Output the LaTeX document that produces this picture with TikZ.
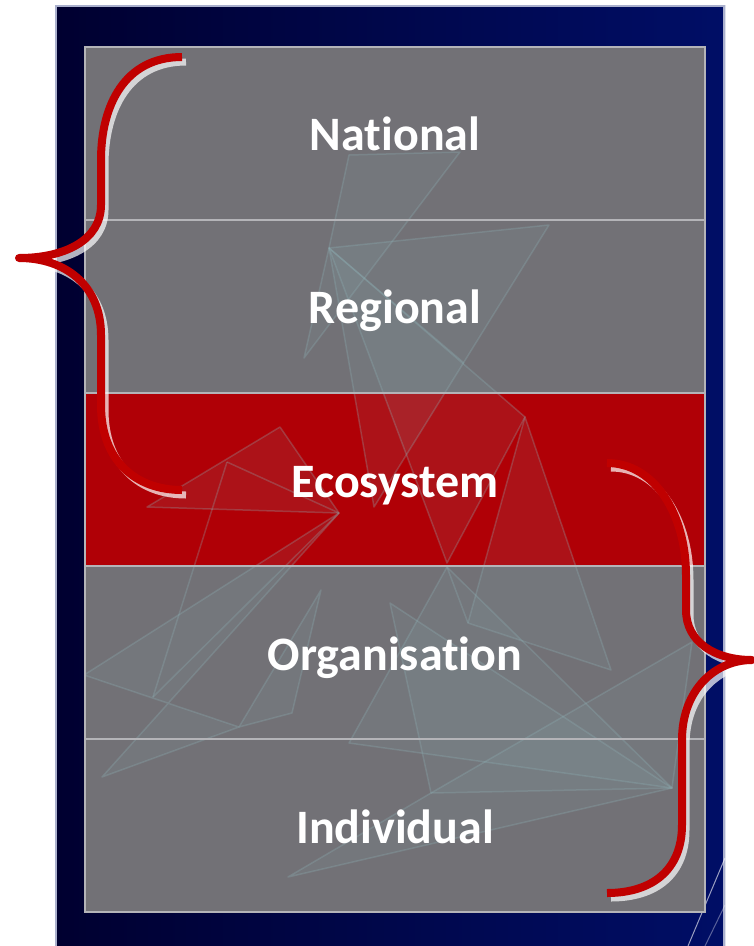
\documentclass[tikz,border=0pt]{standalone}
\usepackage{fontspec}
\setmainfont{Carlito}[Ligatures=NoCommon]
\usetikzlibrary{calc}
\definecolor{navyL}{HTML}{000030}
\definecolor{navyR}{HTML}{000E66}
\definecolor{rowgrey}{HTML}{727176}
\definecolor{rowred}{HTML}{B00006}
\definecolor{brace}{HTML}{C00000}
\definecolor{divider}{HTML}{B4B4B8}
\definecolor{facet}{HTML}{8FB3B8}
\definecolor{paneledge}{HTML}{AAB0CD}
\tikzset{
  rowbox/.style={rectangle, minimum width=620pt, minimum height=173pt, inner sep=0pt, draw=divider, line width=1.5pt},
  label/.style={anchor=base, text=white, font=\bfseries\fontsize{48}{52}\selectfont, inner sep=0pt},
  facetfill/.style={fill=facet, fill opacity=0.10, draw=facet, draw opacity=0.28, line width=1.5pt, line join=round},
  facetline/.style={draw=facet, draw opacity=0.28, line width=1.5pt},
  bracered/.style={draw=brace, line width=8pt, line cap=butt, line join=round},
  braceshadow/.style={draw=white, line width=7pt, opacity=0.7, line cap=butt},
}
\begin{document}
\begin{tikzpicture}[x=1pt,y=-1pt]
\useasboundingbox (0,0) rectangle (754,946);
% panel
\shade[left color=navyL, right color=navyR] (55,5) rectangle (725,950);
\draw[paneledge, line width=2pt] (56,946) -- (56,6) -- (724,6) -- (724,946);
% light streaks bottom right
\draw[white, opacity=0.6, line width=1pt] (688,946) -- (725,858);
\draw[white, opacity=0.35, line width=1pt] (705,946) -- (725,905);
% rows
\node[rowbox, fill=rowgrey] (r1) at (395,133.5) {};
\node[rowbox, fill=rowgrey] (r2) at (395,306.5) {};
\node[rowbox, fill=rowred]  (r3) at (395,479.5) {};
\node[rowbox, fill=rowgrey] (r4) at (395,652.5) {};
\node[rowbox, fill=rowgrey] (r5) at (395,825.5) {};
% faint facets
\begin{scope}
\clip (85,47) rectangle (705,912);
\path[facetfill] (349,155) -- (460,152) -- (304,358) -- (329,248) -- cycle;
\path[facetfill] (329,248) -- (549,225) -- (374,507) -- cycle;
\path[facetfill] (329,248) -- (525,417) -- (447,563) -- cycle;
\path[facetline] (329,248) -- (464,363);
\path[facetfill] (525,417) -- (611,670) -- (468,623) -- cycle;
\path[facetfill] (280,427) -- (147,507) -- (339,513) -- cycle;
\path[facetline] (227,462) -- (339,513);
\path[facetline] (227,462) -- (153,697);
\path[facetfill] (339,513) -- (84,675) -- (239,727) -- (102,777) -- cycle;
\path[facetline] (339,513) -- (153,697);
\path[facetfill] (321,590) -- (292,713) -- (239,727) -- cycle;
\path[facetfill] (390,603) -- (672,788) -- (431,793) -- cycle;
\path[facetfill] (692,642) -- (431,793) -- (288,877) -- (672,788) -- cycle;
\path[facetfill] (447,567) -- (349,743) -- (672,788) -- cycle;
\path[facetline] (447,567) -- (468,623);
\end{scope}
% dividers redraw
\draw[divider, line width=1.5pt] (85,220) -- (705,220);
\draw[divider, line width=1.5pt] (85,393) -- (705,393);
\draw[divider, line width=1.5pt] (85,566) -- (705,566);
\draw[divider, line width=1.5pt] (85,739) -- (705,739);
\draw[divider, line width=1.5pt] (85,47) rectangle (705,912);
% labels
\node[label] (t1) at (395,150) {National};
\node[label] (t2) at (395,323) {Regional};
\node[label] (t3) at (395,497) {Ecosystem};
\node[label] (t4) at (395,670) {Organisation};
\node[label] (t5) at (395,843) {Individual};
% braces
\coordinate (lbTop) at (182,57);
\coordinate (lbTip) at (19,258);
\coordinate (lbBot) at (182,490);
\coordinate (rbTop) at (607,463);
\coordinate (rbTip) at (752,660);
\coordinate (rbBot) at (607,893);
\begin{scope}[shift={(4,5)}]
\draw[braceshadow] (182,57) .. controls (125,57) and (101,105) .. (101,160) -- (101,205) .. controls (101,240) and (65,258) .. (19,258)
  .. controls (65,258) and (101,285) .. (101,335) -- (101,405) .. controls (101,460) and (135,490) .. (182,490);
\draw[braceshadow] (607,463) .. controls (655,463) and (686,515) .. (686,575) -- (686,610) .. controls (686,642) and (715,660) .. (752,660)
  .. controls (715,660) and (682,690) .. (682,740) -- (682,825) .. controls (682,870) and (652,893) .. (607,893);
\end{scope}
\draw[bracered] (lbTop) .. controls (125,57) and (101,105) .. (101,160) -- (101,205) .. controls (101,240) and (65,258) .. (lbTip)
  .. controls (65,258) and (101,285) .. (101,335) -- (101,405) .. controls (101,460) and (135,490) .. (lbBot);
\draw[bracered] (rbTop) .. controls (655,463) and (686,515) .. (686,575) -- (686,610) .. controls (686,642) and (715,660) .. (rbTip)
  .. controls (715,660) and (682,690) .. (682,740) -- (682,825) .. controls (682,870) and (652,893) .. (rbBot);
\end{tikzpicture}
\end{document}
